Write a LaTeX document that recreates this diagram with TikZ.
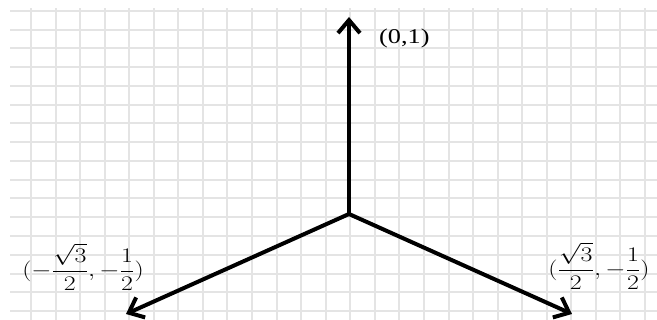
\documentclass[tikz,border=0pt]{standalone}
\usepackage{amsmath}
\usepackage{fontspec}
\setmainfont{Liberation Serif}
\usetikzlibrary{arrows.meta}
\definecolor{cGrid}{HTML}{E4E4E4}
\tikzset{
  gridln/.style={line width=1.5pt, cGrid},
  vecarr/.style={line width=4pt, line cap=round, -{Straight Barb[length=13pt, width=22pt, line width=4pt]}},
  ptlab/.style={inner sep=0pt, xscale=1.25, transform shape},
}
\begin{document}
\begin{tikzpicture}[x=1pt, y=1pt]
\useasboundingbox (-349,-106) rectangle (308,214);
% grid
\foreach \k in {0,...,25} {\draw[gridln] ({round(-318+24.56*\k)},-106) -- ({round(-318+24.56*\k)},206);}
\foreach \k in {0,...,16} {\draw[gridln] (-339,{round(203-18.75*\k)}) -- (308,{round(203-18.75*\k)});}
% unit vectors
\coordinate (O) at (0,0);
\coordinate (up) at (0,197);
\coordinate (lft) at (-223,-100);
\coordinate (rgt) at (223,-100);
\draw[vecarr] (O) -- (up);
\draw[vecarr] (O) -- (lft);
\draw[vecarr] (O) -- (rgt);
\node[ptlab, anchor=west, font=\fontsize{21}{24}\selectfont] (upl) at (30,176) {(0,1)};
\node[ptlab, font=\fontsize{20}{24}\selectfont] (lftl) at (-266,-53) {$(-\dfrac{\sqrt{3}}{2},-\dfrac{1}{2})$};
\node[ptlab, font=\fontsize{20}{24}\selectfont] (rgtl) at (250,-52) {$(\dfrac{\sqrt{3}}{2},-\dfrac{1}{2})$};
\end{tikzpicture}
\end{document}
